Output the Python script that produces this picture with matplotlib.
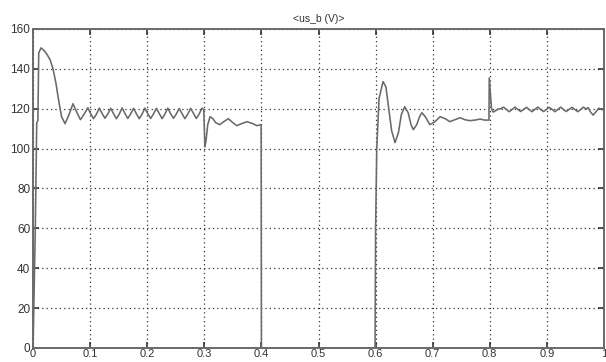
import matplotlib
matplotlib.use("Agg")
import matplotlib.pyplot as plt

# Сигнал <us_b (V)> - точки считаны с картинки
# участок 0 .. 0.4 c (пуск и работа)
t_start = [0.0, 0.004, 0.0065, 0.0085, 0.010, 0.014, 0.020, 0.025, 0.030, 0.035,
           0.040, 0.045, 0.050, 0.056, 0.063, 0.070, 0.077, 0.083, 0.090, 0.096]
u_start = [0.0, 60.0, 113.0, 114.0, 148.0, 150.5, 149.0, 147.0, 144.5, 140.0,
           133.0, 124.0, 116.0, 112.5, 117.0, 122.5, 118.0, 114.5, 117.5, 120.5]

t_ripple1 = [0.101, 0.106, 0.111, 0.116, 0.121, 0.126, 0.131, 0.136, 0.141, 0.146,
             0.151, 0.156, 0.161, 0.166, 0.171, 0.176, 0.181, 0.186, 0.191, 0.196,
             0.201, 0.206, 0.211, 0.216, 0.221, 0.226, 0.231, 0.236, 0.241, 0.246,
             0.251, 0.256, 0.261, 0.266, 0.271, 0.276, 0.281, 0.286, 0.291, 0.296]
u_ripple1 = [117.5, 115.0, 117.2, 120.3, 117.6, 115.2, 117.4, 120.2, 117.5, 115.0,
             117.3, 120.4, 117.6, 115.1, 117.4, 120.2, 117.5, 115.0, 117.3, 120.3,
             117.5, 115.1, 117.4, 120.2, 117.6, 115.0, 117.3, 120.3, 117.5, 115.2,
             117.4, 120.1, 117.5, 115.0, 117.3, 120.2, 117.6, 115.1, 117.4, 120.3]

t_load = [0.299, 0.301, 0.303, 0.306, 0.310, 0.315, 0.320, 0.327, 0.334, 0.342,
          0.350, 0.357, 0.365, 0.375, 0.385, 0.392, 0.3995]
u_load = [119.5, 101.0, 104.0, 112.0, 116.0, 115.0, 113.0, 112.0, 113.5, 115.0,
          113.0, 111.5, 112.5, 113.5, 112.5, 111.5, 112.0]

# участок 0.4 .. 0.6 c (отключение)
t_off = [0.4, 0.599]
u_off = [0.0, 0.0]

# участок 0.6 .. 1.0 c (повторный пуск)
t_restart = [0.600, 0.602, 0.606, 0.613, 0.618, 0.623, 0.628, 0.634, 0.640, 0.645,
             0.651, 0.657, 0.662, 0.666, 0.672, 0.677, 0.681, 0.687, 0.695, 0.704,
             0.713, 0.722, 0.730, 0.739, 0.748, 0.756, 0.765, 0.774, 0.783, 0.791,
             0.7985, 0.799, 0.801, 0.803, 0.806, 0.810, 0.814]
u_restart = [60.0, 100.0, 125.0, 133.6, 131.0, 120.0, 109.0, 103.0, 108.0, 117.0,
             121.0, 118.0, 112.0, 109.5, 112.0, 116.0, 118.0, 116.0, 112.0, 113.5,
             116.0, 115.0, 113.5, 114.5, 115.5, 114.5, 114.0, 114.3, 114.8, 114.3,
             114.3, 135.4, 128.0, 120.0, 118.3, 119.0, 119.8]

t_ripple2 = [0.819, 0.824, 0.829, 0.834, 0.839, 0.844, 0.849, 0.854, 0.859, 0.864,
             0.869, 0.874, 0.879, 0.884, 0.889, 0.894, 0.899, 0.904, 0.909, 0.914,
             0.919, 0.924, 0.929, 0.934, 0.939, 0.944, 0.949, 0.954, 0.959, 0.964,
             0.969, 0.972, 0.976, 0.981, 0.986, 0.991, 0.996, 1.0]
u_ripple2 = [120.0, 120.8, 119.6, 118.5, 119.6, 120.8, 119.7, 118.6, 119.6, 120.7,
             119.6, 118.5, 119.7, 120.8, 119.6, 118.6, 119.6, 120.7, 119.7, 118.5,
             119.6, 120.8, 119.6, 118.6, 119.7, 120.7, 119.6, 118.5, 119.6, 120.8,
             119.8, 120.6, 118.5, 116.8, 118.5, 120.3, 119.5, 120.0]

t_all = t_start + t_ripple1 + t_load + t_off + t_restart + t_ripple2
u_all = u_start + u_ripple1 + u_load + u_off + u_restart + u_ripple2

x_ticks = [0, 0.1, 0.2, 0.3, 0.4, 0.5, 0.6, 0.7, 0.8, 0.9, 1]
x_labels = ['0', '0.1', '0.2', '0.3', '0.4', '0.5', '0.6', '0.7', '0.8', '0.9', '1']
y_ticks = [0, 20, 40, 60, 80, 100, 120, 140, 160]

plt.rcParams['font.family'] = ['Liberation Sans Narrow', 'Liberation Sans', 'DejaVu Sans']

fig = plt.figure(figsize=(6.06, 3.62), dpi=100)
ax = fig.add_axes([0.0545, 0.0387, 0.9422, 0.8813])

ax.plot(t_all, u_all, color='#6a6a6a', linewidth=1.15)

ax.set_xlim(0, 1)
ax.set_ylim(0, 160)
ax.set_xticks(x_ticks)
ax.set_xticklabels(x_labels)
ax.set_yticks(y_ticks)

ax.grid(True, linestyle=(0, (1, 2.5)), color='#333333', linewidth=0.9)
ax.tick_params(direction='in', length=4, width=1.2, top=True, right=True,
               labelsize=8.5, colors='#333333', pad=2)
ax.tick_params(axis='x', pad=1, labelsize=8)
for s in ax.spines.values():
    s.set_color('#6a6a6a')
    s.set_linewidth(1.4)

ax.set_title('<us_b (V)>', fontsize=7.5, color='#333333', pad=5)

fig.savefig('out.png', dpi=100)
